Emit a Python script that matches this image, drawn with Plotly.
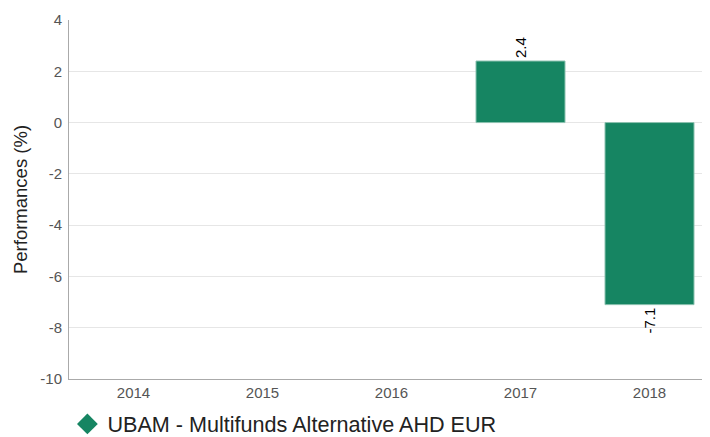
import plotly.graph_objects as go

years = ["2014", "2015", "2016", "2017", "2018"]
perf = [None, None, None, 2.4, -7.1]
labels = ["", "", "", "2.4", "-7.1"]
ytick_vals = [4, 2, 0, -2, -4, -6, -8, -10]
ytick_text = ["4", "2", "0", "-2", "-4", "-6", "-8", "-10"]
series_name = "UBAM - Multifunds Alternative AHD EUR"
color = "#168562"

fig = go.Figure()
fig.add_trace(go.Bar(
    x=years, y=perf, text=labels, textposition="outside", textangle=-90,
    textfont=dict(size=15, color="#000"), cliponaxis=False,
    marker=dict(color=color, line=dict(color="#8cc2b0", width=1)),
    width=0.69, showlegend=False,
))
fig.add_trace(go.Scatter(
    x=[None], y=[None], mode="markers", name=series_name,
    marker=dict(symbol="diamond", size=26, color=color),
))
fig.update_layout(
    width=710, height=429,
    margin=dict(l=61, r=4, t=12, b=58, autoexpand=False),
    paper_bgcolor="white", plot_bgcolor="white",
    font=dict(family="Liberation Sans, Arial", color="#555"),
    showlegend=True,
    legend=dict(orientation="h", x=-0.0025, xanchor="left", y=-0.068, yanchor="top",
                font=dict(size=21.6, color="#222"), itemsizing="trace"),
    xaxis=dict(showline=True, linecolor="#aaa", linewidth=1, showgrid=False,
               tickfont=dict(size=15, color="#555"), ticks="", automargin=False),
    yaxis=dict(range=[-10, 4], tickvals=ytick_vals, ticktext=ytick_text,
               showline=True, linecolor="#aaa", linewidth=1,
               gridcolor="#e6e6e6", zeroline=False, automargin=False,
               ticklabelstandoff=3,
               tickfont=dict(size=15, color="#555"),
               title=dict(text="Performances (%)", font=dict(size=18.5, color="#222"), standoff=7)),
)
fig.write_html("out.html")
